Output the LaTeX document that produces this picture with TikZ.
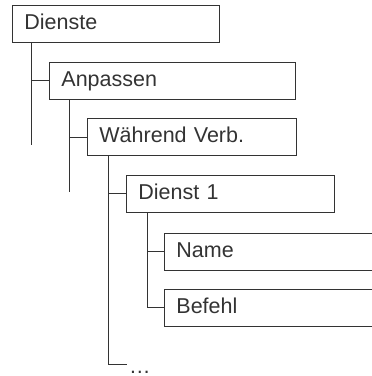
\documentclass[tikz,border=0pt]{standalone}
\usepackage{fontspec}
\setmainfont{Liberation Sans}
\usepackage{tikz}
\definecolor{LineGray}{HTML}{333333}
\tikzset{
  menubox/.style={draw=LineGray, line width=0.9pt, anchor=west, minimum height=37pt,
    inner xsep=12pt, inner ysep=0pt, align=left, text height=15.5pt, text depth=4pt},
  branch/.style={draw=LineGray, line width=0.9pt}
}

\begin{document}
\begin{tikzpicture}[x=1pt,y=-1pt, every node/.style={font=\fontsize{21.5}{24}\selectfont, text=LineGray}]
  \useasboundingbox (0,0) rectangle (372,376);
  \clip (0,0) rectangle (372,376);
  % menu entries
  \node[menubox, text width=183pt] (dienste) at (12,23.5) {Dienste};
  \node[menubox, text width=222pt] (anpassen) at (49,80.5) {Anpassen};
  \node[menubox, text width=185pt] (waehrend) at (87,137) {Während Verb.};
  \node[menubox, text width=184pt] (dienst1) at (126,193.5) {Dienst 1};
  \node[menubox, text width=236pt] (name) at (164,251.5) {Name};
  \node[menubox, text width=236pt] (befehl) at (164,307.5) {Befehl};
  \node[anchor=base west, inner sep=0pt] (more) at (129,373) {\dots};
  % tree lines
  \coordinate (end1) at (31,145);
  \coordinate (end2) at (69,192);
  \coordinate (end3) at (108,364);
  \coordinate (end4) at (147,0);
  \draw[branch] (dienste.south -| end1) -- (end1);
  \draw[branch] (anpassen.west) -- (anpassen.west -| end1);
  \draw[branch] (anpassen.south -| end2) -- (end2);
  \draw[branch] (waehrend.west) -- (waehrend.west -| end2);
  \draw[branch] (waehrend.south -| end3) -- (end3) -- ++(19,0);
  \draw[branch] (dienst1.west) -- (dienst1.west -| end3);
  \draw[branch] (dienst1.south -| end4) -- (befehl.west -| end4) -- (befehl.west);
  \draw[branch] (name.west) -- (name.west -| end4);
\end{tikzpicture}
\end{document}
